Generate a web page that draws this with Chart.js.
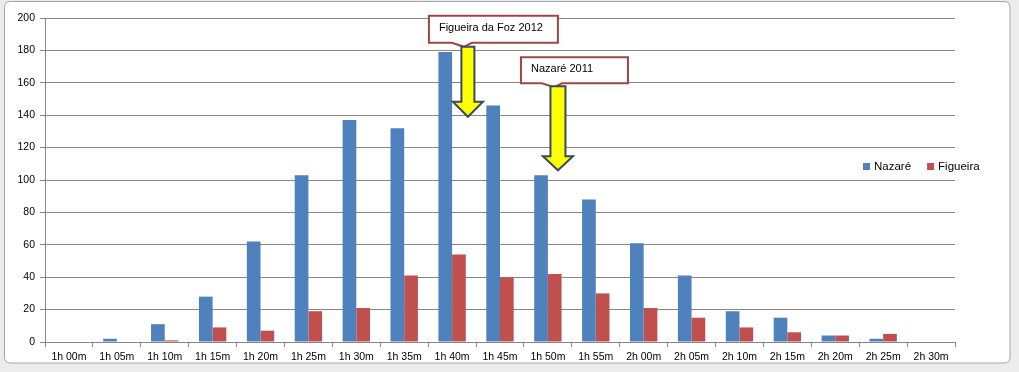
<!DOCTYPE html>
<html>
<head>
<meta charset="utf-8">
<script src="https://cdn.jsdelivr.net/npm/chart.js@4.4.1/dist/chart.umd.min.js"></script>
<style>
  html, body { margin: 0; padding: 0; background: #ececec; }
  #wrap { width: 1019px; height: 372px; position: relative; }
</style>
</head>
<body>
<div id="wrap"><canvas id="c" width="1019" height="372"></canvas></div>
<script>
// ---- data ----
const categories = ["1h 00m","1h 05m","1h 10m","1h 15m","1h 20m","1h 25m","1h 30m","1h 35m","1h 40m","1h 45m","1h 50m","1h 55m","2h 00m","2h 05m","2h 10m","2h 15m","2h 20m","2h 25m","2h 30m"];
const nazare   = [0, 2, 11, 28, 62, 103, 137, 132, 179, 146, 103, 88, 61, 41, 19, 15, 4, 2, 0];
const figueira = [0, 0, 1, 9, 7, 19, 21, 41, 54, 40, 42, 30, 21, 15, 9, 6, 4, 5, 0];
const seriesNames = ["Nazaré", "Figueira"];
const yTicks = [0, 20, 40, 60, 80, 100, 120, 140, 160, 180, 200];
const calloutLabels = ["Figueira da Foz 2012", "Nazaré 2011"];

// ---- styles / annotation placement (not data) ----
const BLUE = "#4f81bd", RED = "#c0504d", GRID = "#868686";
const FONT = "'Liberation Sans', Arial, sans-serif";
const annotations = [
  { text: calloutLabels[0], tipX: 8.33, tipY: 139, boxL: -39, boxR: 90, boxT: -101, boxB: -74, shaftTop: -70, headH: 15, headW: 15, shaftW: 6.5 },
  { text: calloutLabels[1], tipX: 10.21, tipY: 106, boxL: -37, boxR: 70, boxT: -113, boxB: -87, shaftTop: -84, headH: 14, headW: 15, shaftW: 7.5 }
];

const framePlugin = {
  id: 'frame',
  beforeDraw(chart) {
    const ctx = chart.ctx;
    ctx.save();
    ctx.fillStyle = "#ececec";
    ctx.fillRect(0, 0, chart.width, chart.height);
    ctx.beginPath();
    const x = 4.5, y = 1.5, w = 1005.5, h = 361.5, r = 6;
    ctx.moveTo(x + r, y);
    ctx.lineTo(x + w - r, y); ctx.quadraticCurveTo(x + w, y, x + w, y + r);
    ctx.lineTo(x + w, y + h - r); ctx.quadraticCurveTo(x + w, y + h, x + w - r, y + h);
    ctx.lineTo(x + r, y + h); ctx.quadraticCurveTo(x, y + h, x, y + h - r);
    ctx.lineTo(x, y + r); ctx.quadraticCurveTo(x, y, x + r, y);
    ctx.closePath();
    ctx.fillStyle = "#ffffff";
    ctx.fill();
    ctx.strokeStyle = "#a5a5a5";
    ctx.lineWidth = 1;
    ctx.stroke();
    ctx.restore();
  }
};

const legendPlugin = {
  id: 'legendRow',
  afterDraw(chart) {
    const ctx = chart.ctx;
    ctx.save();
    ctx.font = "11.5px " + FONT;
    ctx.textBaseline = "middle";
    let x = 863;
    const y = 166.5;
    chart.data.datasets.forEach((ds) => {
      ctx.fillStyle = ds.backgroundColor;
      ctx.fillRect(x, y - 3.5, 7, 7);
      ctx.fillStyle = "#000";
      ctx.fillText(ds.label, x + 11, y);
      x += 11 + ctx.measureText(ds.label).width + 16;
    });
    ctx.restore();
  }
};

const annotPlugin = {
  id: 'annot',
  afterDatasetsDraw(chart) {
    const ctx = chart.ctx;
    const xs = chart.scales.x, ys = chart.scales.y;
    ctx.save();
    annotations.forEach(a => {
      const tx = xs.getPixelForValue(a.tipX), ty = ys.getPixelForValue(a.tipY);
      // callout box
      const L = tx + a.boxL, R = tx + a.boxR, T = ty + a.boxT, B = ty + a.boxB;
      ctx.beginPath();
      ctx.moveTo(L, T); ctx.lineTo(R, T); ctx.lineTo(R, B);
      ctx.lineTo(tx + 4, B); ctx.lineTo(tx - 4, B + 4); ctx.lineTo(tx - 16, B);
      ctx.lineTo(L, B); ctx.closePath();
      ctx.fillStyle = "#ffffff"; ctx.fill();
      ctx.strokeStyle = "#a04543"; ctx.lineWidth = 2; ctx.stroke();
      ctx.fillStyle = "#000";
      ctx.font = "11px " + FONT;
      ctx.textBaseline = "middle";
      ctx.fillText(a.text, L + 10, (T + B) / 2 - 1.5);
      // arrow
      const st = ty + a.shaftTop, hb = ty - a.headH;
      ctx.beginPath();
      ctx.moveTo(tx - a.shaftW, st); ctx.lineTo(tx + a.shaftW, st);
      ctx.lineTo(tx + a.shaftW, hb); ctx.lineTo(tx + a.headW, hb);
      ctx.lineTo(tx, ty); ctx.lineTo(tx - a.headW, hb);
      ctx.lineTo(tx - a.shaftW, hb); ctx.closePath();
      ctx.fillStyle = "#ffff00"; ctx.fill();
      ctx.strokeStyle = "#3a4b60"; ctx.lineWidth = 2; ctx.lineJoin = "miter"; ctx.stroke();
    });
    ctx.restore();
  }
};

new Chart(document.getElementById('c'), {
  type: 'bar',
  data: {
    labels: categories,
    datasets: [
      { label: seriesNames[0], data: nazare, backgroundColor: BLUE },
      { label: seriesNames[1], data: figueira, backgroundColor: RED }
    ]
  },
  options: {
    responsive: false,
    animation: false,
    devicePixelRatio: 1,
    categoryPercentage: 2 / 3.5,
    barPercentage: 1,
    layout: { padding: { left: 0, right: 64, top: 18, bottom: 0 } },
    plugins: { legend: { display: false }, tooltip: { enabled: false } },
    scales: {
      x: {
        grid: { display: true, drawOnChartArea: false, drawTicks: true, tickLength: 5, color: GRID, offset: true },
        border: { display: true, color: GRID, width: 1 },
        ticks: { color: "#000", font: { family: FONT, size: 10.5 }, padding: 4, maxRotation: 0, autoSkip: false },
        afterFit(s) { s.height = 30; }
      },
      y: {
        min: 0, max: 200,
        afterBuildTicks(s) { s.ticks = yTicks.map(v => ({ value: v })); },
        grid: { color: GRID, tickLength: 5, drawTicks: true },
        border: { display: true, color: GRID, width: 1 },
        ticks: { color: "#000", font: { family: FONT, size: 10.5 }, padding: 5 },
        afterFit(s) { s.width = 45; }
      }
    }
  },
  plugins: [framePlugin, annotPlugin, legendPlugin]
});
</script>
</body>
</html>
